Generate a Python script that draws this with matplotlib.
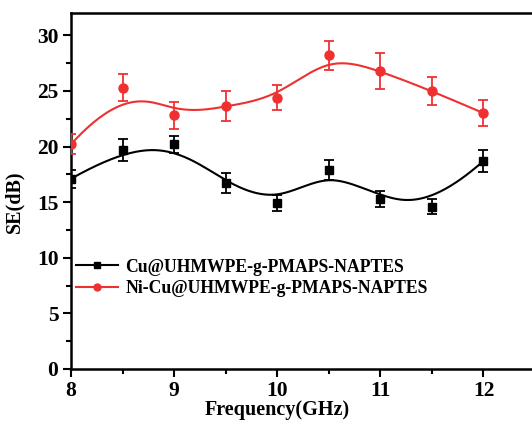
import numpy as np
import matplotlib
matplotlib.use("Agg")
import matplotlib.pyplot as plt
from matplotlib.ticker import MultipleLocator

# data
freq = [8, 8.5, 9, 9.5, 10, 10.5, 11, 11.5, 12]
cu_se = [17.1, 19.7, 20.2, 16.7, 14.9, 17.9, 15.3, 14.6, 18.7]
cu_err = [0.8, 1.0, 0.75, 0.9, 0.7, 0.9, 0.7, 0.7, 0.95]
nicu_se = [20.2, 25.3, 22.8, 23.6, 24.4, 28.2, 26.8, 25.0, 23.0]
nicu_err = [0.9, 1.2, 1.2, 1.35, 1.1, 1.3, 1.6, 1.25, 1.15]
labels = ["Cu@UHMWPE-g-PMAPS-NAPTES", "Ni-Cu@UHMWPE-g-PMAPS-NAPTES"]


def bspline(xs, ys, n=300):
    # clamped cubic B-spline with the data points as control points (Origin style)
    P = np.column_stack([xs, ys])
    m = len(P)
    k = 3
    knots = np.concatenate([[0] * k, np.arange(m - k + 1), [m - k] * k]).astype(float)
    t = np.linspace(0, m - k, n)
    t[-1] -= 1e-9

    def basis(i, d, t):
        if d == 0:
            return ((knots[i] <= t) & (t < knots[i + 1])).astype(float)
        a = np.zeros_like(t)
        b = np.zeros_like(t)
        if knots[i + d] != knots[i]:
            a = (t - knots[i]) / (knots[i + d] - knots[i]) * basis(i, d - 1, t)
        if knots[i + d + 1] != knots[i + 1]:
            b = (knots[i + d + 1] - t) / (knots[i + d + 1] - knots[i + 1]) * basis(i + 1, d - 1, t)
        return a + b

    B = np.array([basis(i, k, t) for i in range(m)])
    curve = B.T @ P
    return curve[:, 0], curve[:, 1]


plt.rcParams['font.family'] = 'Liberation Serif'
plt.rcParams['font.weight'] = 'bold'

fig = plt.figure(figsize=(5.32, 4.21), dpi=100)
ax = fig.add_axes([71 / 532, 52 / 421, 464 / 532, 356 / 421])

for se, err, col, mk, ms, lab in [(cu_se, cu_err, 'black', 's', 6, labels[0]),
                                  (nicu_se, nicu_err, '#f03030', 'o', 6.5, labels[1])]:
    sx, sy = bspline(freq, se)
    ax.plot(sx, sy, color=col, lw=1.5, zorder=2)
    ax.errorbar(freq, se, yerr=err, fmt=mk, color=col, ms=ms, capsize=3.5,
                elinewidth=1.3, capthick=1.3, zorder=3)
    ax.plot([], [], color=col, marker=mk, ms=5, lw=1.5, label=lab)

ax.set_xlim(8, 12.5)
ax.set_ylim(0, 32)
ax.xaxis.set_major_locator(MultipleLocator(1))
ax.xaxis.set_minor_locator(MultipleLocator(0.5))
ax.yaxis.set_major_locator(MultipleLocator(5))
ax.yaxis.set_minor_locator(MultipleLocator(2.5))
ax.set_xticks([8, 9, 10, 11, 12])
ax.tick_params(which='major', direction='out', length=6, width=1.5, labelsize=15.5, pad=3)
ax.tick_params(which='minor', direction='out', length=3.5, width=1.5)
for s in ax.spines.values():
    s.set_linewidth(1.8)
ax.spines['right'].set_visible(False)

ax.set_xlabel('Frequency(GHz)', fontsize=14.5, fontweight='bold')
ax.xaxis.set_label_coords(2 / 4.5, -0.088)
ax.set_ylabel('SE(dB)', fontsize=14.5, fontweight='bold')
ax.yaxis.set_label_coords(-0.1, 0.47)

ax.legend(loc='upper left', bbox_to_anchor=(-0.005, 0.33), frameon=False,
          fontsize=12.7, handlelength=2.4, handletextpad=0.4, labelspacing=0.25,
          borderaxespad=0)

fig.savefig('out.png', dpi=100)
